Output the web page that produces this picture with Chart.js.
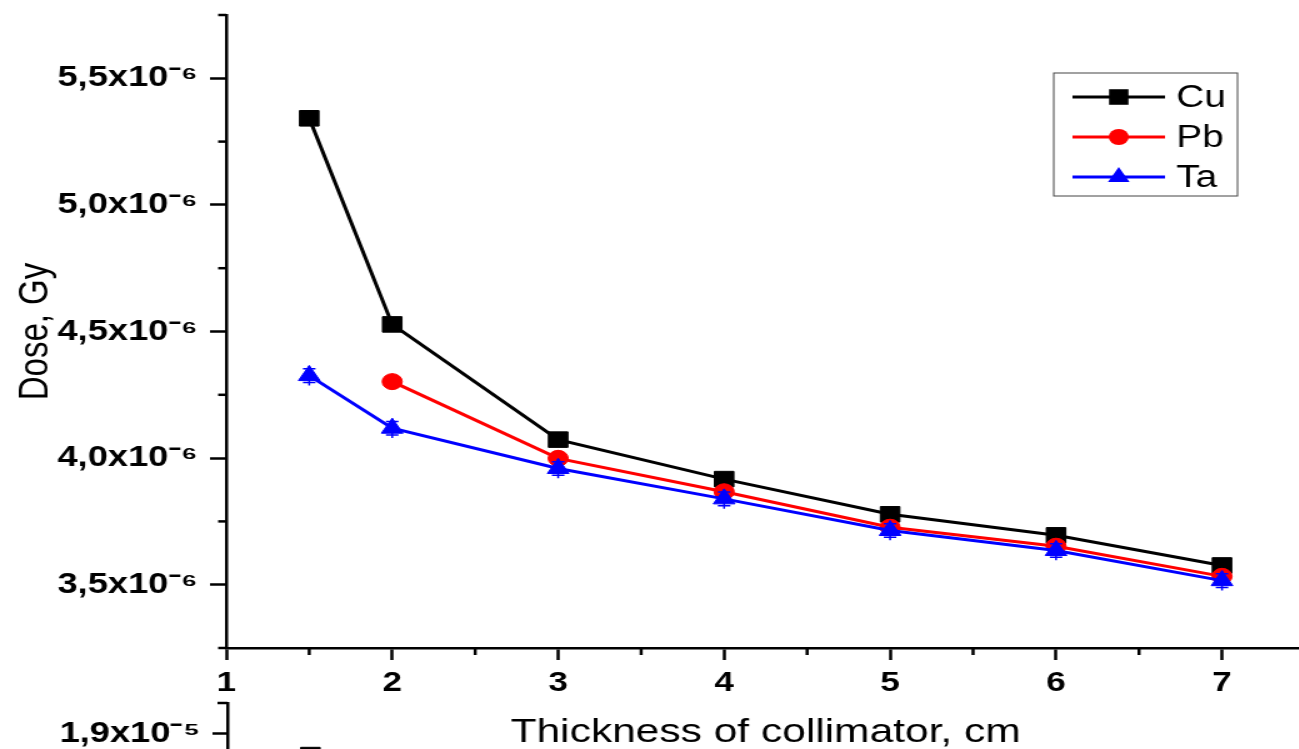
<!DOCTYPE html>
<html>
<head>
<meta charset="utf-8">
<title>Dose vs thickness of collimator</title>
<script src="https://cdn.jsdelivr.net/npm/chart.js@4.4.1/dist/chart.umd.min.js"></script>
<style>
  html, body { margin: 0; padding: 0; background: #fff; overflow: hidden; width: 1299px; height: 749px; }
  canvas { position: absolute; left: 0; }
</style>
</head>
<body>
<!-- the original figure is stretched sideways, so the canvases are drawn narrow and widened by css -->
<canvas id="doseChart" width="1044" height="760" style="top:0px;width:1305px;height:760px;"></canvas>
<canvas id="lowerChart" width="1044" height="292" style="top:690px;width:1305px;height:292px;"></canvas>
<script>
// values
const thickness = [1.5, 2, 3, 4, 5, 6, 7];
const doseCu = [5.342e-6, 4.528e-6, 4.073e-6, 3.917e-6, 3.778e-6, 3.695e-6, 3.576e-6];
const dosePb = [null, 4.302e-6, 3.999e-6, 3.867e-6, 3.727e-6, 3.652e-6, 3.533e-6];
const doseTa = [4.326e-6, 4.118e-6, 3.959e-6, 3.839e-6, 3.714e-6, 3.635e-6, 3.516e-6];
const errCu = [0.015e-6, 0.015e-6, 0.015e-6, 0.015e-6, 0.015e-6, 0.015e-6, 0.015e-6];
const errPb = [null, 0.02e-6, 0.02e-6, 0.02e-6, 0.02e-6, 0.02e-6, 0.02e-6];
const errTa = [0.027e-6, 0.027e-6, 0.027e-6, 0.027e-6, 0.027e-6, 0.027e-6, 0.027e-6];

const seriesNames = ['Cu', 'Pb', 'Ta'];

const xTicks = [1, 2, 3, 4, 5, 6, 7];
const xTickLabels = ['1', '2', '3', '4', '5', '6', '7'];
const xMinor = [1.5, 2.5, 3.5, 4.5, 5.5, 6.5, 7.5];
const yTicks = [3.5e-6, 4.0e-6, 4.5e-6, 5.0e-6, 5.5e-6];
const yTickLabels = ['3,5x10⁻⁶', '4,0x10⁻⁶', '4,5x10⁻⁶', '5,0x10⁻⁶', '5,5x10⁻⁶'];
const yMinor = [3.25e-6, 3.75e-6, 4.25e-6, 4.75e-6, 5.25e-6, 5.75e-6];

// next panel of the figure, only its top edge shows
const lowerThickness = [1.5];
const lowerDoseCu = [1.866e-5];
const lowerYTicks = [1.9e-5];
const lowerYTickLabels = ['1,9x10⁻⁵'];
const lowerYMinor = [1.95e-5];

const fontFamily = "'Liberation Sans', Arial, sans-serif";

function toPoints(xs, ys, errs) {
  return xs.map((x, i) => ({ x: x, y: ys[i], err: errs ? errs[i] : null }))
    .filter(p => p.y !== null);
}

function drawMarker(ctx, style, x, y, r) {
  ctx.beginPath();
  if (style === 'rect') {
    const s = r * Math.SQRT1_2;
    ctx.rect(x - s, y - s, 2 * s, 2 * s);
  } else if (style === 'circle') {
    ctx.arc(x, y, r, 0, Math.PI * 2);
  } else {
    // same shape chart.js uses for 'triangle'
    ctx.moveTo(x, y - r);
    ctx.lineTo(x + Math.sin(2 * Math.PI / 3) * r, y + r / 2);
    ctx.lineTo(x - Math.sin(2 * Math.PI / 3) * r, y + r / 2);
    ctx.closePath();
  }
  ctx.fill();
}

// short unlabeled ticks
const minorTicks = {
  id: 'minorTicks',
  afterDraw(chart, args, opts) {
    const { ctx, chartArea } = chart;
    ctx.save();
    ctx.strokeStyle = '#000';
    ctx.lineWidth = opts.width;
    (opts.xValues || []).forEach(v => {
      const px = chart.scales.x.getPixelForValue(v);
      ctx.beginPath();
      ctx.moveTo(px, chartArea.bottom);
      ctx.lineTo(px, chartArea.bottom + opts.xLen);
      ctx.stroke();
    });
    (opts.yValues || []).forEach(v => {
      const py = chart.scales.y.getPixelForValue(v);
      ctx.beginPath();
      ctx.moveTo(chartArea.left, py);
      ctx.lineTo(chartArea.left - opts.yLen, py);
      ctx.stroke();
    });
    ctx.restore();
  }
};

const errorBars = {
  id: 'errorBars',
  afterDatasetDraw(chart, args, opts) {
    const ds = chart.data.datasets[args.index];
    const yScale = chart.scales.y;
    const ctx = chart.ctx;
    ctx.save();
    ctx.strokeStyle = ds.borderColor;
    ctx.lineWidth = opts.lineWidth;
    args.meta.data.forEach((pt, j) => {
      const raw = ds.data[j];
      if (!raw.err) return;
      const top = yScale.getPixelForValue(raw.y + raw.err);
      const bot = yScale.getPixelForValue(raw.y - raw.err);
      ctx.beginPath();
      ctx.moveTo(pt.x, top - 3);
      ctx.lineTo(pt.x, bot + 3);
      ctx.moveTo(pt.x - opts.cap, top);
      ctx.lineTo(pt.x + opts.cap, top);
      ctx.moveTo(pt.x - opts.cap, bot);
      ctx.lineTo(pt.x + opts.cap, bot);
      ctx.stroke();
    });
    ctx.restore();
  }
};

// legend box inside the plot, like the original
const boxLegend = {
  id: 'boxLegend',
  afterDraw(chart, args, opts) {
    const ctx = chart.ctx;
    ctx.save();
    ctx.strokeStyle = '#444';
    ctx.lineWidth = 1;
    ctx.strokeRect(opts.x, opts.y, opts.w, opts.h);
    ctx.font = opts.fontSize + 'px ' + fontFamily;
    ctx.textBaseline = 'middle';
    ctx.textAlign = 'left';
    seriesNames.forEach((name, i) => {
      const ds = chart.data.datasets.find(d => d.label === name);
      const rowY = opts.firstRow + i * opts.rowGap;
      ctx.strokeStyle = ds.borderColor;
      ctx.fillStyle = ds.borderColor;
      ctx.lineWidth = ds.borderWidth;
      ctx.beginPath();
      ctx.moveTo(opts.lineX0, rowY);
      ctx.lineTo(opts.lineX1, rowY);
      ctx.stroke();
      drawMarker(ctx, ds.pointStyle, (opts.lineX0 + opts.lineX1) / 2, rowY, ds.pointRadius);
      ctx.fillStyle = '#000';
      ctx.fillText(name, opts.textX, rowY + 1);
    });
    ctx.restore();
  }
};

function makeDataset(label, xs, ys, errs, color, marker, radius, order) {
  return {
    label: label,
    data: toPoints(xs, ys, errs),
    borderColor: color,
    backgroundColor: color,
    pointBackgroundColor: color,
    pointBorderColor: color,
    pointBorderWidth: 1,
    pointStyle: marker,
    pointRadius: radius,
    borderWidth: 3,
    tension: 0,
    fill: false,
    order: order
  };
}

const doseCanvas = document.getElementById('doseChart').getContext('2d');

const doseChart = new Chart(doseCanvas, {
  type: 'line',
  data: {
    datasets: [
      makeDataset('Cu', thickness, doseCu, errCu, '#000000', 'rect', 11, 2),
      makeDataset('Pb', thickness, dosePb, errPb, '#ff0000', 'circle', 8, 1),
      makeDataset('Ta', thickness, doseTa, errTa, '#0000ff', 'triangle', 10, 0)
    ]
  },
  options: {
    responsive: false,
    devicePixelRatio: 1,
    animation: false,
    events: [],
    layout: { autoPadding: false, padding: { top: 15, left: 0, right: 0, bottom: 0 } },
    scales: {
      x: {
        type: 'linear',
        min: 1,
        max: 7.5,
        bounds: 'data',
        afterBuildTicks: s => { s.ticks = xTicks.map(v => ({ value: v })); },
        afterFit: s => { s.height = 112; s.paddingLeft = 0; s.paddingRight = 0; },
        border: { display: true, color: '#000', width: 2.5 },
        grid: { drawOnChartArea: false, drawTicks: true, tickLength: 12, tickWidth: 2.5, tickColor: '#000' },
        ticks: {
          autoSkip: false,
          maxRotation: 0,
          padding: 6,
          color: '#000',
          font: { family: fontFamily, size: 28, weight: 'bold' },
          callback: (v, i) => xTickLabels[i]
        },
        title: {
          display: true,
          text: 'Thickness of collimator, cm',
          color: '#000',
          font: { family: fontFamily, size: 34 },
          padding: { top: 0, bottom: 7 }
        }
      },
      y: {
        type: 'linear',
        min: 3.25e-6,
        max: 5.75e-6,
        bounds: 'data',
        afterBuildTicks: s => { s.ticks = yTicks.map(v => ({ value: v })); },
        afterFit: s => { s.width = 181; s.paddingTop = 0; s.paddingBottom = 0; },
        border: { display: true, color: '#000', width: 2.5 },
        grid: { drawOnChartArea: false, drawTicks: true, tickLength: 13, tickWidth: 2.5, tickColor: '#000' },
        ticks: {
          autoSkip: false,
          padding: 10,
          color: '#000',
          font: { family: fontFamily, size: 29, weight: 'bold' },
          callback: (v, i) => yTickLabels[i]
        },
        title: {
          display: true,
          text: 'Dose, Gy',
          color: '#000',
          font: { family: fontFamily, size: 33 },
          padding: { top: 9, bottom: 0 }
        }
      }
    },
    plugins: {
      legend: { display: false },
      tooltip: { enabled: false },
      minorTicks: { xValues: xMinor, yValues: yMinor, xLen: 7, yLen: 6.5, width: 2.5 },
      errorBars: { lineWidth: 1.5, cap: 5 },
      boxLegend: {
        x: 843, y: 73, w: 147, h: 123,
        firstRow: 97, rowGap: 40,
        lineX0: 858, lineX1: 932, textX: 941, fontSize: 31
      }
    }
  },
  plugins: [minorTicks, errorBars, boxLegend]
});

const lowerCanvas = document.getElementById('lowerChart').getContext('2d');

const lowerChart = new Chart(lowerCanvas, {
  type: 'line',
  data: {
    datasets: [
      makeDataset('Cu', lowerThickness, lowerDoseCu, null, '#000000', 'rect', 11, 0)
    ]
  },
  options: {
    responsive: false,
    devicePixelRatio: 1,
    animation: false,
    events: [],
    layout: { autoPadding: false, padding: { top: 13, left: 0, right: 0, bottom: 0 } },
    scales: {
      x: { type: 'linear', min: 1, max: 7.5, display: false },
      y: {
        type: 'linear',
        min: 1.5e-5,
        max: 1.95e-5,
        bounds: 'data',
        afterBuildTicks: s => { s.ticks = lowerYTicks.map(v => ({ value: v })); },
        afterFit: s => { s.width = 182; s.paddingTop = 0; s.paddingBottom = 0; },
        border: { display: true, color: '#000', width: 2.5 },
        grid: { drawOnChartArea: false, drawTicks: true, tickLength: 12, tickWidth: 2.5, tickColor: '#000' },
        ticks: {
          autoSkip: false,
          padding: 10,
          color: '#000',
          font: { family: fontFamily, size: 29, weight: 'bold' },
          callback: (v, i) => lowerYTickLabels[i]
        }
      }
    },
    plugins: {
      legend: { display: false },
      tooltip: { enabled: false },
      minorTicks: { xValues: [], yValues: lowerYMinor, xLen: 7, yLen: 8, width: 2.5 },
      errorBars: { lineWidth: 1.5, cap: 5 }
    }
  },
  plugins: [minorTicks, errorBars]
});
</script>
</body>
</html>
